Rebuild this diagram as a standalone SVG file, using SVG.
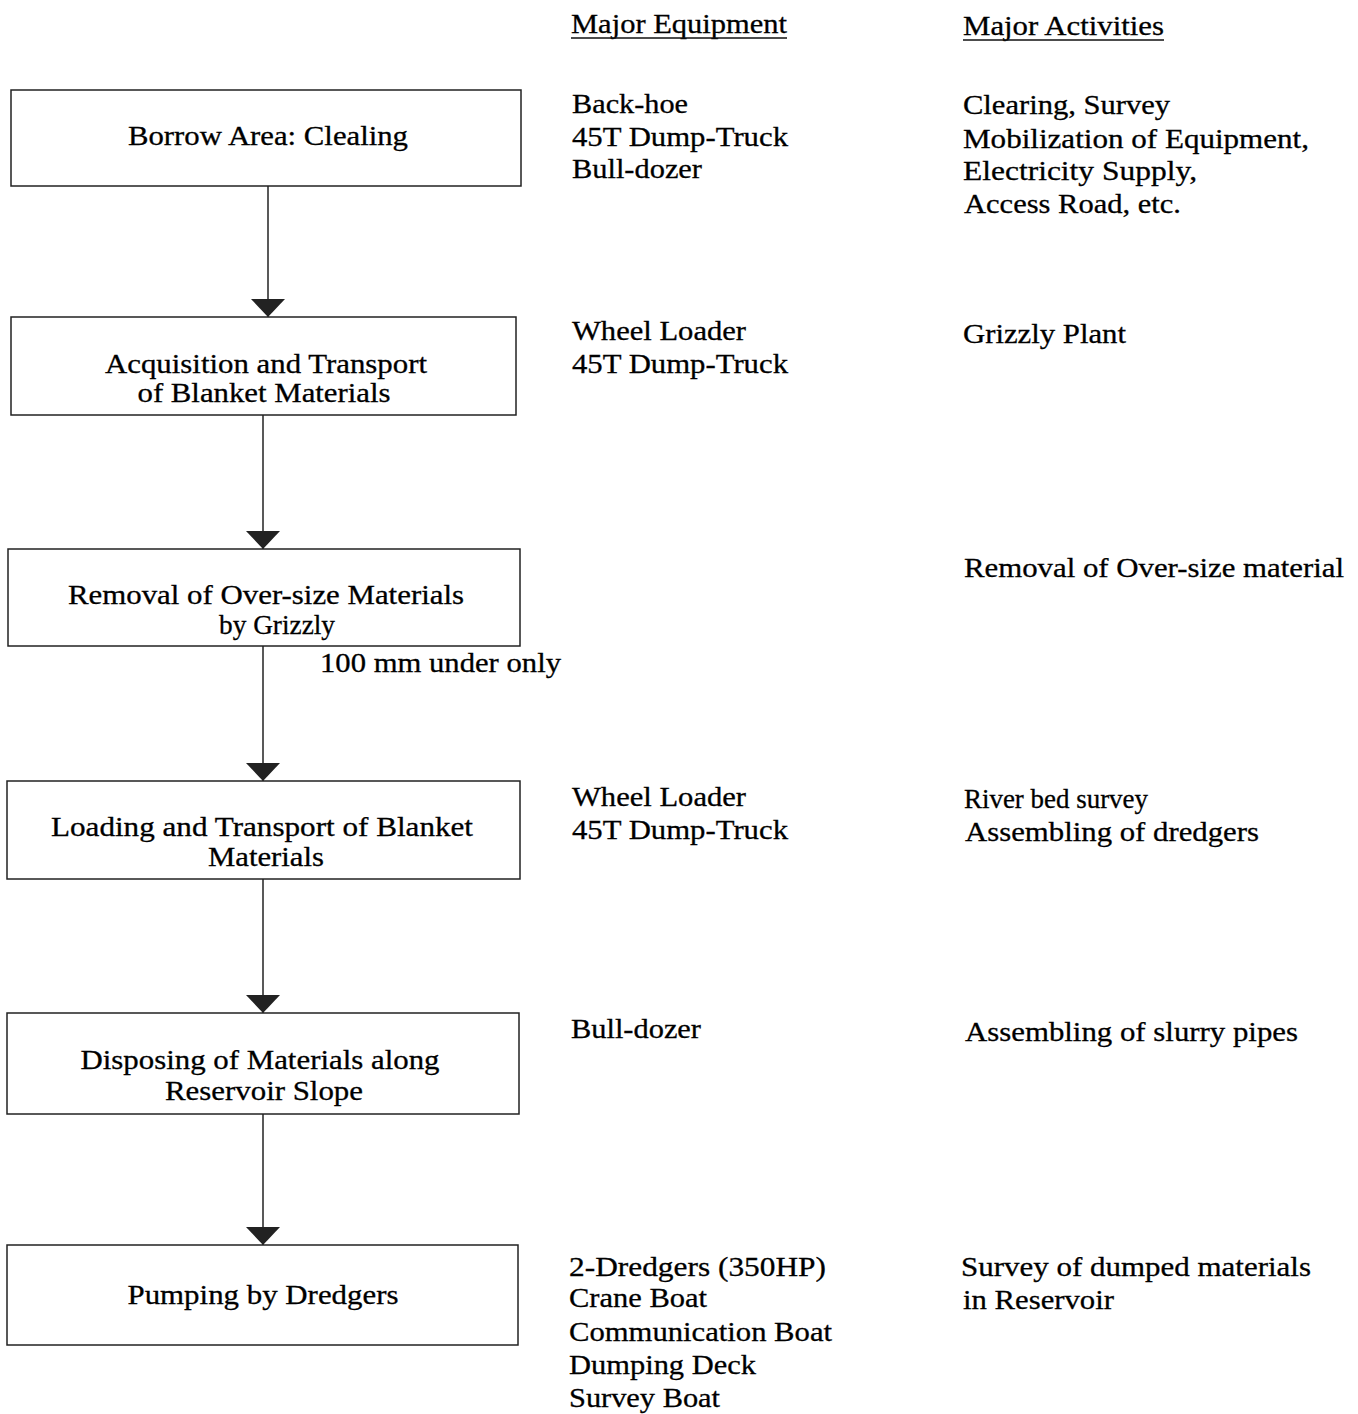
<svg xmlns="http://www.w3.org/2000/svg" width="1358" height="1414" viewBox="0 0 1358 1414">
<defs>
<style>
text{font-family:"Liberation Serif","Times New Roman",serif;font-size:28px;fill:#000;stroke:#000;stroke-width:0.3;}
.c{text-anchor:middle;}
.box{fill:#fff;stroke:#222;stroke-width:1.5;}
.con{stroke:#222;stroke-width:1.5;fill:none;marker-end:url(#tri);}
.ul{stroke:#111;stroke-width:1.5;}
</style>
<marker id="tri" markerUnits="userSpaceOnUse" markerWidth="34" markerHeight="18" viewBox="0 0 34 18" refX="17" refY="18" orient="0">
<path d="M0,0 L34,0 L17,18 Z" fill="#222"/>
</marker>
</defs>
<rect width="1358" height="1414" fill="#fff"/>

<g id="headers">
<text x="571" y="33" textLength="216" lengthAdjust="spacingAndGlyphs">Major Equipment</text>
<line class="ul" x1="571" y1="38" x2="787" y2="38"/>
<text x="963" y="35" textLength="201" lengthAdjust="spacingAndGlyphs">Major Activities</text>
<line class="ul" x1="963" y1="40" x2="1164" y2="40"/>
</g>

<g id="connectors">
<line class="con" x1="268" y1="186" x2="268" y2="317"/>
<line class="con" x1="263" y1="415" x2="263" y2="549"/>
<line class="con" x1="263" y1="646" x2="263" y2="781"/>
<line class="con" x1="263" y1="879" x2="263" y2="1013"/>
<line class="con" x1="263" y1="1114" x2="263" y2="1245"/>
</g>

<g id="node1">
<rect class="box" x="11" y="90" width="510" height="96"/>
<text class="c" x="268" y="145" textLength="280" lengthAdjust="spacingAndGlyphs">Borrow Area: Clealing</text>
</g>
<g id="node2">
<rect class="box" x="11" y="317" width="505" height="98"/>
<text class="c" x="266" y="373" textLength="322" lengthAdjust="spacingAndGlyphs">Acquisition and Transport</text>
<text class="c" x="264" y="402" textLength="253" lengthAdjust="spacingAndGlyphs">of Blanket Materials</text>
</g>
<g id="node3">
<rect class="box" x="8" y="549" width="512" height="97"/>
<text class="c" x="266" y="604" textLength="396" lengthAdjust="spacingAndGlyphs">Removal of Over-size Materials</text>
<text class="c" x="277" y="634" textLength="116" lengthAdjust="spacingAndGlyphs">by Grizzly</text>
</g>
<text id="label-100mm" x="320" y="672" textLength="241" lengthAdjust="spacingAndGlyphs">100 mm under only</text>
<g id="node4">
<rect class="box" x="7" y="781" width="513" height="98"/>
<text class="c" x="262" y="836" textLength="422" lengthAdjust="spacingAndGlyphs">Loading and Transport of Blanket</text>
<text class="c" x="266" y="866" textLength="116" lengthAdjust="spacingAndGlyphs">Materials</text>
</g>
<g id="node5">
<rect class="box" x="7" y="1013" width="512" height="101"/>
<text class="c" x="260" y="1069" textLength="359" lengthAdjust="spacingAndGlyphs">Disposing of Materials along</text>
<text class="c" x="264" y="1100" textLength="198" lengthAdjust="spacingAndGlyphs">Reservoir Slope</text>
</g>
<g id="node6">
<rect class="box" x="7" y="1245" width="511" height="100"/>
<text class="c" x="263" y="1304" textLength="271" lengthAdjust="spacingAndGlyphs">Pumping by Dredgers</text>
</g>

<g id="equipment">
<text x="572" y="113" textLength="116" lengthAdjust="spacingAndGlyphs">Back-hoe</text>
<text x="572" y="146" textLength="216" lengthAdjust="spacingAndGlyphs">45T Dump-Truck</text>
<text x="572" y="178" textLength="130" lengthAdjust="spacingAndGlyphs">Bull-dozer</text>
<text x="572" y="340" textLength="174" lengthAdjust="spacingAndGlyphs">Wheel Loader</text>
<text x="572" y="373" textLength="216" lengthAdjust="spacingAndGlyphs">45T Dump-Truck</text>
<text x="572" y="806" textLength="174" lengthAdjust="spacingAndGlyphs">Wheel Loader</text>
<text x="572" y="839" textLength="216" lengthAdjust="spacingAndGlyphs">45T Dump-Truck</text>
<text x="571" y="1038" textLength="130" lengthAdjust="spacingAndGlyphs">Bull-dozer</text>
<text x="569" y="1276" textLength="257" lengthAdjust="spacingAndGlyphs">2-Dredgers (350HP)</text>
<text x="569" y="1307" textLength="138" lengthAdjust="spacingAndGlyphs">Crane Boat</text>
<text x="569" y="1341" textLength="263" lengthAdjust="spacingAndGlyphs">Communication Boat</text>
<text x="569" y="1374" textLength="187" lengthAdjust="spacingAndGlyphs">Dumping Deck</text>
<text x="569" y="1407" textLength="151" lengthAdjust="spacingAndGlyphs">Survey Boat</text>
</g>

<g id="activities">
<text x="963" y="114" textLength="207" lengthAdjust="spacingAndGlyphs">Clearing, Survey</text>
<text x="963" y="148" textLength="346" lengthAdjust="spacingAndGlyphs">Mobilization of Equipment,</text>
<text x="963" y="180" textLength="234" lengthAdjust="spacingAndGlyphs">Electricity Supply,</text>
<text x="964" y="213" textLength="217" lengthAdjust="spacingAndGlyphs">Access Road, etc.</text>
<text x="963" y="343" textLength="163" lengthAdjust="spacingAndGlyphs">Grizzly Plant</text>
<text x="964" y="577" textLength="380" lengthAdjust="spacingAndGlyphs">Removal of Over-size material</text>
<text x="964" y="808" textLength="184" lengthAdjust="spacingAndGlyphs">River bed survey</text>
<text x="965" y="841" textLength="294" lengthAdjust="spacingAndGlyphs">Assembling of dredgers</text>
<text x="965" y="1041" textLength="333" lengthAdjust="spacingAndGlyphs">Assembling of slurry pipes</text>
<text x="961" y="1276" textLength="350" lengthAdjust="spacingAndGlyphs">Survey of dumped materials</text>
<text x="963" y="1309" textLength="151" lengthAdjust="spacingAndGlyphs">in Reservoir</text>
</g>
</svg>
